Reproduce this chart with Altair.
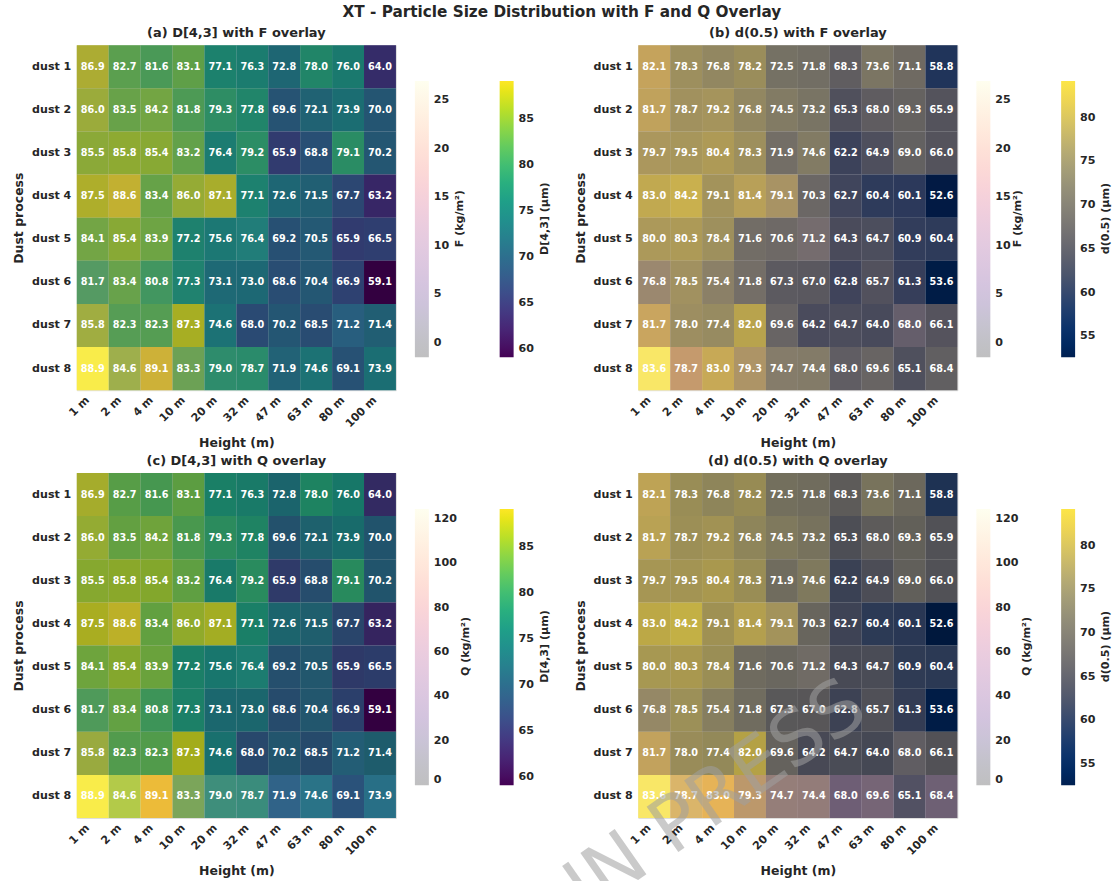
import altair as alt
import pandas as pd

# Row and column categories
dust = ["dust 1", "dust 2", "dust 3", "dust 4", "dust 5", "dust 6", "dust 7", "dust 8"]
heights = ["1 m", "2 m", "4 m", "10 m", "20 m", "32 m", "47 m", "63 m", "80 m", "100 m"]

# Volume-weighted mean diameter D[4,3] (µm)
D43 = [
    [86.9, 82.7, 81.6, 83.1, 77.1, 76.3, 72.8, 78.0, 76.0, 64.0],
    [86.0, 83.5, 84.2, 81.8, 79.3, 77.8, 69.6, 72.1, 73.9, 70.0],
    [85.5, 85.8, 85.4, 83.2, 76.4, 79.2, 65.9, 68.8, 79.1, 70.2],
    [87.5, 88.6, 83.4, 86.0, 87.1, 77.1, 72.6, 71.5, 67.7, 63.2],
    [84.1, 85.4, 83.9, 77.2, 75.6, 76.4, 69.2, 70.5, 65.9, 66.5],
    [81.7, 83.4, 80.8, 77.3, 73.1, 73.0, 68.6, 70.4, 66.9, 59.1],
    [85.8, 82.3, 82.3, 87.3, 74.6, 68.0, 70.2, 68.5, 71.2, 71.4],
    [88.9, 84.6, 89.1, 83.3, 79.0, 78.7, 71.9, 74.6, 69.1, 73.9],
]

# Median diameter d(0.5) (µm)
D50 = [
    [82.1, 78.3, 76.8, 78.2, 72.5, 71.8, 68.3, 73.6, 71.1, 58.8],
    [81.7, 78.7, 79.2, 76.8, 74.5, 73.2, 65.3, 68.0, 69.3, 65.9],
    [79.7, 79.5, 80.4, 78.3, 71.9, 74.6, 62.2, 64.9, 69.0, 66.0],
    [83.0, 84.2, 79.1, 81.4, 79.1, 70.3, 62.7, 60.4, 60.1, 52.6],
    [80.0, 80.3, 78.4, 71.6, 70.6, 71.2, 64.3, 64.7, 60.9, 60.4],
    [76.8, 78.5, 75.4, 71.8, 67.3, 67.0, 62.8, 65.7, 61.3, 53.6],
    [81.7, 78.0, 77.4, 82.0, 69.6, 64.2, 64.7, 64.0, 68.0, 66.1],
    [83.6, 78.7, 83.0, 79.3, 74.7, 74.4, 68.0, 69.6, 65.1, 68.4],
]

# Vertical dust flux F (kg/m²)
F = [
    [5.0, 1.5, 1.2, 1.0, 0.6, 0.5, 0.3, 0.4, 0.2, 0.1],
    [4.5, 1.8, 2.0, 1.2, 0.8, 0.6, 0.3, 0.4, 0.3, 0.2],
    [2.5, 2.0, 1.8, 1.4, 0.9, 0.8, 0.4, 0.5, 0.6, 0.2],
    [3.0, 3.5, 1.6, 3.0, 3.2, 0.9, 0.5, 0.4, 0.3, 0.1],
    [2.2, 2.0, 1.5, 1.0, 1.2, 2.5, 0.4, 0.5, 0.3, 0.2],
    [4.0, 2.2, 1.8, 1.1, 0.8, 0.6, 0.3, 0.4, 0.2, -1.5],
    [7.0, 2.0, 1.6, 1.5, 1.0, 0.5, 0.4, 0.3, 2.5, 0.3],
    [27.0, 12.0, 4.5, 4.0, 2.0, 1.5, 1.0, 0.8, 0.5, 0.6],
]

# Horizontal dust flux Q (kg/m²)
Q = [
    [20.0, 6.0, 5.0, 4.0, 2.5, 2.0, 1.2, 1.5, 1.0, 0.4],
    [18.0, 7.0, 8.0, 5.0, 3.0, 2.5, 1.2, 1.6, 1.2, 0.8],
    [10.0, 8.0, 7.0, 5.5, 3.5, 3.0, 1.6, 2.0, 2.4, 0.8],
    [12.0, 14.0, 6.5, 12.0, 13.0, 3.6, 2.0, 1.6, 1.2, 0.4],
    [9.0, 8.0, 6.0, 4.0, 5.0, 10.0, 1.6, 2.0, 1.2, 0.8],
    [16.0, 9.0, 7.0, 4.5, 3.2, 2.4, 1.2, 1.6, 0.8, 0.0],
    [28.0, 8.0, 6.5, 6.0, 4.0, 2.0, 1.6, 1.2, 10.0, 1.2],
    [124.5, 100.0, 64.0, 42.0, 34.0, 33.0, 28.0, 28.0, 14.0, 26.0],
]

# Colour-bar tick values
ticks_D43 = [60, 65, 70, 75, 80, 85]
ticks_D50 = [55, 60, 65, 70, 75, 80]
ticks_F = [0, 5, 10, 15, 20, 25]
ticks_Q = [0, 20, 40, 60, 80, 100, 120]

records = []
for i, name in enumerate(dust):
    for j, h in enumerate(heights):
        records.append({
            "dust": name, "height": h,
            "D43": D43[i][j], "D50": D50[i][j],
            "F": F[i][j], "Q": Q[i][j],
        })
df = pd.DataFrame(records)


def flat(m):
    return [v for row in m for v in row]


FONT = "DejaVu Sans"
INK = "#262626"
OVERLAY_ALPHA = 0.25
PW, PH = 320, 346
BAR_X_OVERLAY, BAR_X_SIZE = 339, 424
BAR_MID = 174


def legend(values, x, opacity=1.0):
    return alt.Legend(
        orient="none", legendX=x, legendY=36, direction="vertical",
        gradientLength=277, gradientThickness=14, gradientOpacity=opacity,
        gradientStrokeWidth=0, values=values, title=None,
        labelFont=FONT, labelFontSize=11.1, labelFontWeight="bold", labelColor=INK,
        labelOverlap=False, labelOffset=5, padding=0,
    )


def bar_title(text, x):
    return alt.Chart(pd.DataFrame({"t": [text]})).mark_text(
        angle=270, align="center", baseline="middle",
        font=FONT, fontSize=11.1, fontWeight="bold", color=INK,
    ).encode(x=alt.value(x), y=alt.value(BAR_MID), text="t:N")


def panel(field, field_title, scheme, ticks, matrix,
          ov_field, ov_title, ov_ticks, ov_matrix, title, ov_title_x, extra=None):
    x = alt.X(
        "height:N", sort=heights,
        scale=alt.Scale(paddingInner=0, paddingOuter=0),
        axis=alt.Axis(
            title="Height (m)", labelAngle=315, labelAlign="right", labelBaseline="middle",
            labelPadding=8, labelOffset=-5, ticks=False, domain=False,
            labelFont=FONT, labelFontSize=11.1, labelFontWeight="bold", labelColor=INK,
            titleFont=FONT, titleFontSize=12.5, titleFontWeight="bold", titleColor=INK,
            titlePadding=8,
        ),
    )
    y = alt.Y(
        "dust:N", sort=dust,
        scale=alt.Scale(paddingInner=0, paddingOuter=0),
        axis=alt.Axis(
            title="Dust process", ticks=False, domain=False, labelPadding=6,
            labelFont=FONT, labelFontSize=11.1, labelFontWeight="bold", labelColor=INK,
            titleFont=FONT, titleFontSize=12.5, titleFontWeight="bold", titleColor=INK,
            titlePadding=6,
        ),
    )
    vals = flat(matrix)
    ov_vals = flat(ov_matrix)
    base = alt.Chart(df).mark_rect().encode(
        x=x, y=y,
        color=alt.Color(
            f"{field}:Q",
            scale=alt.Scale(scheme=scheme, domain=[min(vals), max(vals)]),
            legend=legend(ticks, BAR_X_SIZE),
        ),
    )
    overlay = alt.Chart(df).mark_rect(opacity=OVERLAY_ALPHA).encode(
        x=x, y=y,
        color=alt.Color(
            f"{ov_field}:Q",
            scale=alt.Scale(scheme="magma", domain=[min(ov_vals), max(ov_vals)]),
            legend=legend(ov_ticks, BAR_X_OVERLAY, OVERLAY_ALPHA),
        ),
    )
    labels = alt.Chart(df).mark_text(
        font=FONT, fontSize=9.7, fontWeight="bold", color="white",
        align="center", baseline="middle",
    ).encode(x=x, y=y, text=alt.Text(f"{field}:Q", format=".1f"))
    layers = [base, overlay, labels,
              bar_title(ov_title, ov_title_x), bar_title(field_title, 469)]
    if extra is not None:
        layers.append(extra)
    return alt.layer(*layers).resolve_scale(color="independent").properties(
        width=PW, height=PH,
        title=alt.TitleParams(title, font=FONT, fontSize=13, fontWeight="bold",
                              color=INK, offset=5),
    )


# Publisher stamp across the lower-right panel
stamp = alt.Chart(pd.DataFrame({"t": ["IN PRESS"]})).mark_text(
    angle=325, align="right", baseline="middle",
    font=FONT, fontSize=76, color="#a0a0a0", opacity=0.55,
).encode(x=alt.value(220), y=alt.value(226), text="t:N")

pa = panel("D43", "D[4,3] (μm)", "viridis", ticks_D43, D43,
           "F", "F (kg/m²)", ticks_F, F, "(a) D[4,3] with F overlay", 384)
pb = panel("D50", "d(0.5) (μm)", "cividis", ticks_D50, D50,
           "F", "F (kg/m²)", ticks_F, F, "(b) d(0.5) with F overlay", 381)
pc = panel("D43", "D[4,3] (μm)", "viridis", ticks_D43, D43,
           "Q", "Q (kg/m²)", ticks_Q, Q, "(c) D[4,3] with Q overlay", 390)
pd_ = panel("D50", "d(0.5) (μm)", "cividis", ticks_D50, D50,
            "Q", "Q (kg/m²)", ticks_Q, Q, "(d) d(0.5) with Q overlay", 390, stamp)

chart = alt.concat(
    pa, pb, pc, pd_, columns=2,
    spacing={"row": 83, "column": 243}, bounds="flush",
).properties(
    title=alt.TitleParams(
        "XT - Particle Size Distribution with F and Q Overlay",
        font=FONT, fontSize=15.3, fontWeight="bold", color=INK, anchor="middle", offset=6,
    ),
    padding={"left": 12, "top": 4, "right": 5, "bottom": 5},
).configure_view(stroke=None).configure(background="white")

chart.save("out.html", embed_options={"renderer": "svg", "actions": False})
